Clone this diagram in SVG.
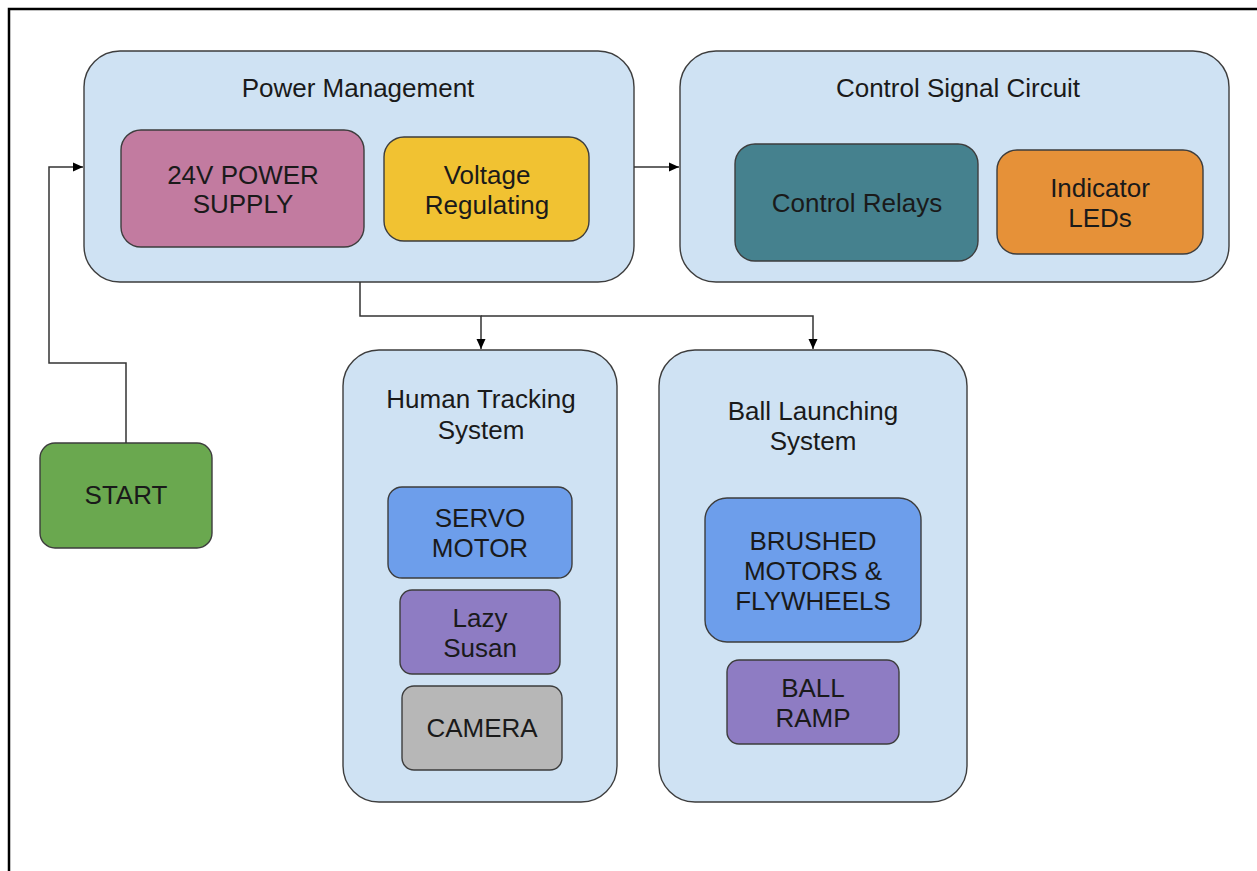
<svg xmlns="http://www.w3.org/2000/svg" width="1257" height="871" viewBox="0 0 1257 871">
<style>
.box{stroke:#3d3d3d;stroke-width:1.4}
.grp{fill:#cfe2f3}
.t{font-family:"Liberation Sans",Arial,sans-serif;font-size:26px;fill:#1a1a1a;text-anchor:middle}
.c{fill:none;stroke:#333;stroke-width:1.5}
</style>
<defs>
<marker id="ah" viewBox="0 0 10 10" refX="10" refY="5" markerWidth="10" markerHeight="10" markerUnits="userSpaceOnUse" orient="auto">
<path d="M0,0.5 L10,5 L0,9.5 Z" fill="#000"/>
</marker>
</defs>
<rect width="1257" height="871" fill="#fff"/>
<path d="M9,871 V9 H1257" fill="none" stroke="#000" stroke-width="2.5"/>

<g id="power-management">
<rect class="box grp" x="84" y="51" width="550" height="231" rx="36"/>
<text class="t" x="358" y="97">Power Management</text>
</g>
<g id="power-supply">
<rect class="box" fill="#c27ba0" x="121" y="130" width="243" height="117" rx="20"/>
<text class="t" x="243" y="184">24V POWER</text>
<text class="t" x="243" y="213">SUPPLY</text>
</g>
<g id="voltage-regulating">
<rect class="box" fill="#f1c232" x="384" y="137" width="205" height="104" rx="20"/>
<text class="t" x="487" y="184">Voltage</text>
<text class="t" x="487" y="214">Regulating</text>
</g>

<g id="control-signal-circuit">
<rect class="box grp" x="680" y="51" width="549" height="231" rx="36"/>
<text class="t" x="958" y="97">Control Signal Circuit</text>
</g>
<g id="control-relays">
<rect class="box" fill="#45818e" x="735" y="144" width="243" height="117" rx="20"/>
<text class="t" x="857" y="212">Control Relays</text>
</g>
<g id="indicator-leds">
<rect class="box" fill="#e69138" x="997" y="150" width="206" height="104" rx="20"/>
<text class="t" x="1100" y="197">Indicator</text>
<text class="t" x="1100" y="227">LEDs</text>
</g>

<g id="human-tracking">
<rect class="box grp" x="343" y="350" width="274" height="452" rx="36"/>
<text class="t" x="481" y="408">Human Tracking</text>
<text class="t" x="481" y="439">System</text>
</g>
<g id="servo-motor">
<rect class="box" fill="#6d9eeb" x="388" y="487" width="184" height="91" rx="14"/>
<text class="t" x="480" y="527">SERVO</text>
<text class="t" x="480" y="557">MOTOR</text>
</g>
<g id="lazy-susan">
<rect class="box" fill="#8e7cc3" x="400" y="590" width="160" height="84" rx="12"/>
<text class="t" x="480" y="627">Lazy</text>
<text class="t" x="480" y="657">Susan</text>
</g>
<g id="camera">
<rect class="box" fill="#b7b7b7" x="402" y="686" width="160" height="84" rx="12"/>
<text class="t" x="482" y="737">CAMERA</text>
</g>

<g id="ball-launching">
<rect class="box grp" x="659" y="350" width="308" height="452" rx="36"/>
<text class="t" x="813" y="420">Ball Launching</text>
<text class="t" x="813" y="450">System</text>
</g>
<g id="brushed-motors">
<rect class="box" fill="#6d9eeb" x="705" y="498" width="216" height="144" rx="22"/>
<text class="t" x="813" y="550">BRUSHED</text>
<text class="t" x="813" y="580">MOTORS &amp;</text>
<text class="t" x="813" y="610">FLYWHEELS</text>
</g>
<g id="ball-ramp">
<rect class="box" fill="#8e7cc3" x="727" y="660" width="172" height="84" rx="12"/>
<text class="t" x="813" y="697">BALL</text>
<text class="t" x="813" y="727">RAMP</text>
</g>

<g id="start">
<rect class="box" fill="#6aa84f" x="40" y="443" width="172" height="105" rx="15"/>
<text class="t" x="126" y="504">START</text>
</g>

<g id="connectors">
<path class="c" d="M126,443 V363 H49 V167 H83" marker-end="url(#ah)"/>
<path class="c" d="M634,167 H679" marker-end="url(#ah)"/>
<path class="c" d="M360,282 V316 H481 V349" marker-end="url(#ah)"/>
<path class="c" d="M481,316 H813 V349" marker-end="url(#ah)"/>
</g>
</svg>
